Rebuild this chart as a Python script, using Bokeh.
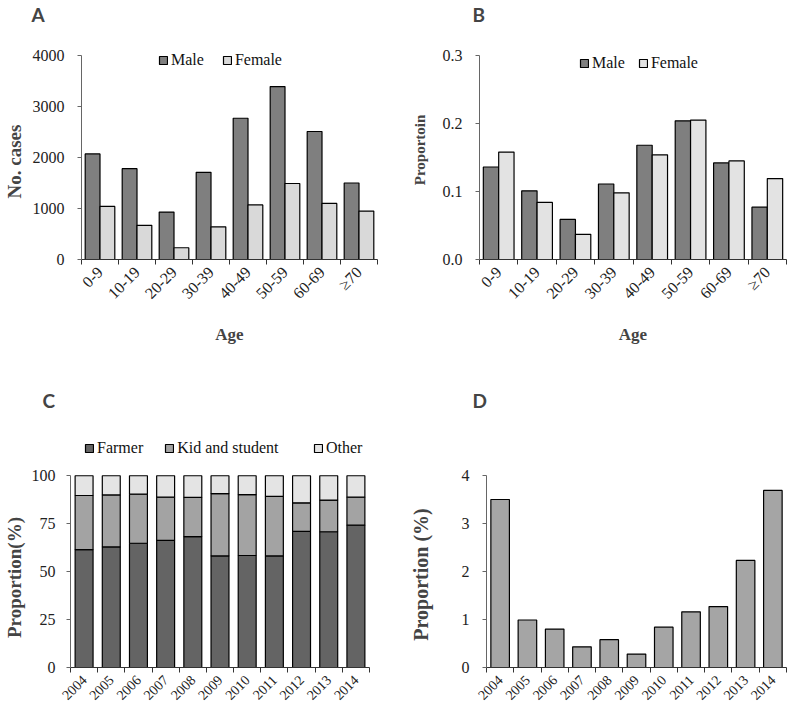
import math
import numpy as np
from bokeh.plotting import figure
from bokeh.models import (Range1d, FixedTicker, NumeralTickFormatter, Legend, LegendItem,
                          CustomJSTickFormatter)
from bokeh.layouts import column, row
from bokeh.embed import file_html
from bokeh.resources import INLINE

# ---------------- data ----------------
age_groups = ["0-9", "10-19", "20-29", "30-39", "40-49", "50-59", "60-69", "≥70"]
cases_male = [2070, 1780, 930, 1710, 2770, 3390, 2510, 1500]
cases_female = [1040, 670, 230, 640, 1070, 1490, 1100, 950]
prop_male = [0.136, 0.101, 0.059, 0.111, 0.168, 0.204, 0.142, 0.077]
prop_female = [0.158, 0.084, 0.037, 0.098, 0.154, 0.205, 0.145, 0.119]

years = ["2004", "2005", "2006", "2007", "2008", "2009", "2010", "2011", "2012", "2013", "2014"]
farmer = [61.5, 62.9, 64.8, 66.3, 68.2, 58.2, 58.4, 58.2, 71.0, 70.8, 74.2]
kid_student = [28.2, 27.1, 25.6, 22.5, 20.5, 32.5, 31.8, 31.0, 14.9, 16.5, 14.6]
other = [10.3, 10.0, 9.6, 11.2, 11.3, 9.3, 9.8, 10.8, 14.1, 12.7, 11.2]
yearly_prop = [3.50, 0.99, 0.80, 0.43, 0.58, 0.28, 0.84, 1.16, 1.27, 2.23, 3.69]

yticks_a = [0, 1000, 2000, 3000, 4000]
yticks_b = [0.0, 0.1, 0.2, 0.3]
yticks_c = [0, 25, 50, 75, 100]
yticks_d = [0, 1, 2, 3, 4]

SERIF = "Liberation Serif"
MALE_C, FEMALE_C = "#7f7f7f", "#d9d9d9"
FARMER_C, KID_C, OTHER_C = "#646464", "#a3a3a3", "#e4e4e4"
D_C = "#a5a5a5"
NB = "\u00a0"  # padding that moves the centred axis title down along the bounded axis


def make_fig(w, h, bl, br, bt, bb, n, yticks, axis_top_px, letter, letter_offset):
    # frame spans [bt, h-bb]; the top tick sits axis_top_px from the figure top,
    # the space above it holds the legend
    frame_h = h - bt - bb
    top_val = yticks[-1]
    ymax = top_val * frame_h / (h - bb - axis_top_px)
    p = figure(width=w, height=h, x_range=Range1d(0, n), y_range=Range1d(0, ymax),
               output_backend="svg", toolbar_location=None,
               min_border_left=bl, min_border_right=br, min_border_top=bt, min_border_bottom=bb)
    p.grid.visible = False
    p.outline_line_color = None
    p.background_fill_color = "white"
    p.title.text = letter
    p.title.text_font = "Lato"
    p.title.text_font_style = "bold"
    p.title.text_font_size = "19px"
    p.title.align = "left"
    p.title.offset = letter_offset
    p.title.standoff = 0
    return p


def style_axes(p, labels, ylabel, yticks, label_font_x, ylabel_size, ylabel_standoff,
               ytick_standoff=13, xlabel=None):
    n = len(labels)
    ax = p.xaxis[0]
    ax.ticker = FixedTicker(ticks=[i + 0.5 for i in range(n)], minor_ticks=list(range(n + 1)))
    ax.formatter = CustomJSTickFormatter(args=dict(labels=labels),
                                         code="return labels[Math.floor(tick)] || ''")
    ax.major_label_orientation = math.pi / 4
    ax.major_tick_out = 0
    ax.major_tick_in = 0
    ax.minor_tick_out = 5
    ax.minor_tick_in = 0
    ax.minor_tick_line_color = "#333333"
    ax.axis_line_color = "#333333"
    ax.major_label_text_font = SERIF
    ax.major_label_text_font_size = label_font_x
    ax.major_label_text_color = "#222222"
    ax.major_label_standoff = 5
    if xlabel:
        ax.axis_label = xlabel
        ax.axis_label_text_font = SERIF
        ax.axis_label_text_font_style = "bold"
        ax.axis_label_text_font_size = "17px"
        ax.axis_label_standoff = 14
    ay = p.yaxis[0]
    ay.ticker = FixedTicker(ticks=yticks)
    ay.bounds = (yticks[0], yticks[-1])
    ay.minor_tick_line_color = None
    ay.major_tick_out = 4
    ay.major_tick_in = 0
    ay.axis_line_color = "#666666"
    ay.major_tick_line_color = "#666666"
    ay.major_label_text_font = SERIF
    ay.major_label_text_font_size = "16px"
    ay.major_label_text_color = "#222222"
    ay.major_label_standoff = ytick_standoff
    ay.axis_label = ylabel
    ay.axis_label_text_font = SERIF
    ay.axis_label_text_font_style = "bold"
    ay.axis_label_text_font_size = ylabel_size
    ay.axis_label_standoff = ylabel_standoff


def legend(items, loc, spacing):
    return Legend(items=items, orientation="horizontal", location=loc,
                  border_line_color=None, background_fill_alpha=0, padding=0, margin=0,
                  spacing=spacing, glyph_width=10, glyph_height=10, label_standoff=3,
                  label_height=18, label_text_font=SERIF, label_text_font_size="16px",
                  label_text_color="#111111")


# ---------------- Panel A ----------------
xa = np.arange(len(age_groups)) + 0.5
pa = make_fig(397, 380, 79, 20, 25, 121, len(age_groups), yticks_a, 55, "A", -50)
ma = pa.vbar(x=xa - 0.2, top=cases_male, width=0.4, fill_color=MALE_C, line_color="black", line_width=1.2)
fa = pa.vbar(x=xa + 0.2, top=cases_female, width=0.4, fill_color=FEMALE_C, line_color="black", line_width=1.2)
style_axes(pa, age_groups, "No. cases" + NB * 8, yticks_a, "16px", "19px", 5, xlabel="Age")
pa.add_layout(legend([LegendItem(label="Male", renderers=[ma]),
                      LegendItem(label="Female", renderers=[fa])], (77, 190), 18))

# ---------------- Panel B ----------------
pb = make_fig(395, 380, 82, 6, 25, 121, len(age_groups), yticks_b, 55, "B", -7)
mb = pb.vbar(x=xa - 0.2, top=prop_male, width=0.4, fill_color=MALE_C, line_color="black", line_width=1.2)
fb = pb.vbar(x=xa + 0.2, top=prop_female, width=0.4, fill_color="#e3e3e3", line_color="black", line_width=1.2)
style_axes(pb, age_groups, "Proportoin" + NB * 4, yticks_b, "16px", "15px", 12, xlabel="Age")
pb.yaxis[0].formatter = NumeralTickFormatter(format="0.0")
pb.add_layout(legend([LegendItem(label="Male", renderers=[mb]),
                      LegendItem(label="Female", renderers=[fb])], (100, 187), 13))

# ---------------- Panel C ----------------
xc = np.arange(len(years)) + 0.5
pc = make_fig(397, 334, 67, 28, 31, 44, len(years), yticks_c, 96, "C", -28)
stack_src = dict(x=xc, Farmer=farmer, Kid=kid_student, Other=other)
rc = pc.vbar_stack(["Farmer", "Kid", "Other"], x="x", width=0.66, source=stack_src,
                   fill_color=[FARMER_C, KID_C, OTHER_C], line_color="black", line_width=1.2)
style_axes(pc, years, "Proportion(%)" + NB * 16, yticks_c, "14px", "19px", 4, ytick_standoff=11)
pc.add_layout(legend([LegendItem(label="Farmer", renderers=[rc[0]]),
                      LegendItem(label="Kid and student", renderers=[rc[1]])], (14, 210), 21))
pc.add_layout(legend([LegendItem(label="Other", renderers=[rc[2]])], (243, 210), 0))

# ---------------- Panel D ----------------
pd_ = make_fig(395, 334, 89, 6, 31, 47, len(years), yticks_d, 95, "D", -14)
pd_.vbar(x=xc, top=yearly_prop, width=0.68, fill_color=D_C, line_color="black", line_width=1.2)
style_axes(pd_, years, "Proportion (%)" + NB * 14, yticks_d, "14px", "20px", 27)

layout = column(row(pa, pb), row(pc, pd_))
open("out.html", "w").write(file_html(layout, INLINE))
